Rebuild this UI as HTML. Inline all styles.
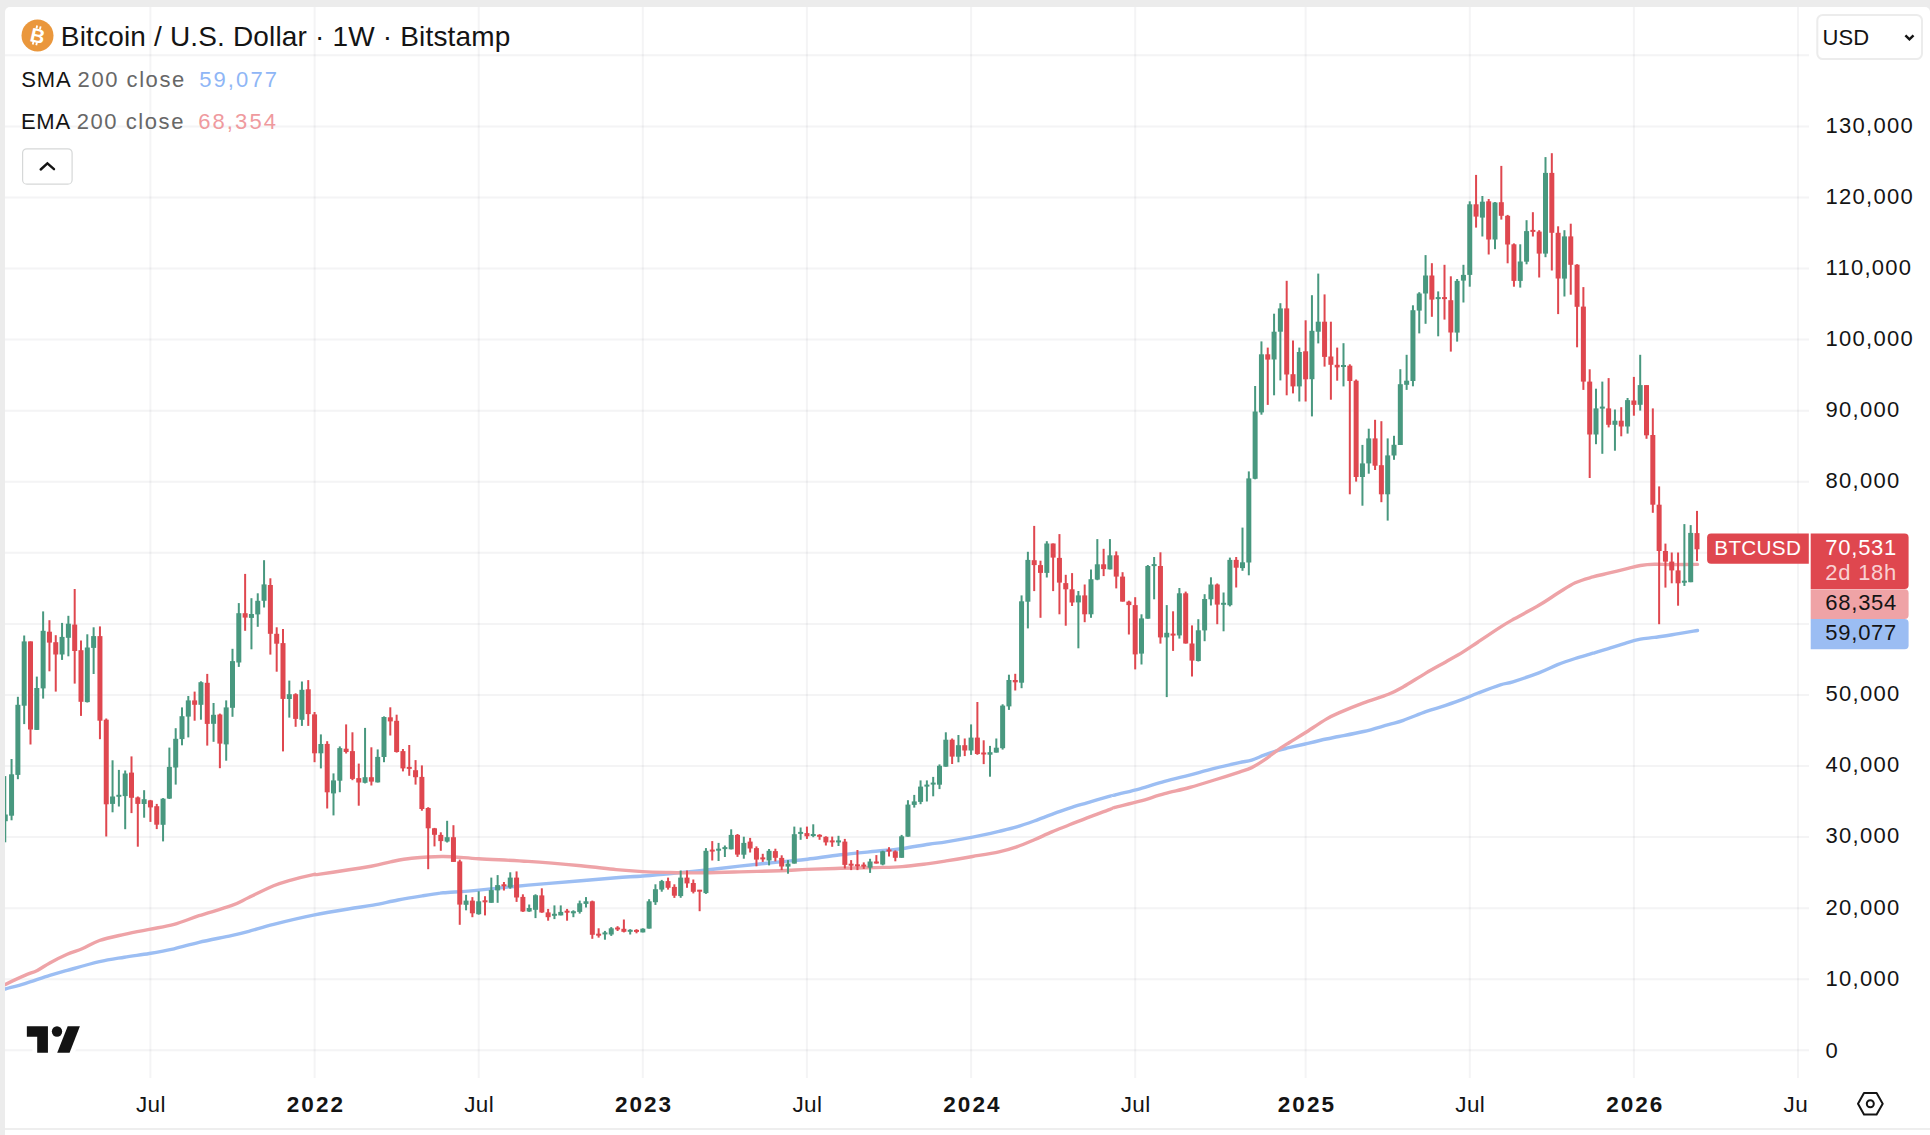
<!DOCTYPE html>
<html><head><meta charset="utf-8"><title>BTCUSD</title>
<style>
html,body{margin:0;padding:0;}
body{width:1930px;height:1135px;overflow:hidden;background:#ececec;font-family:"Liberation Sans",sans-serif;color:#141414;position:relative;}
#panel{position:absolute;left:5px;top:7px;width:1925px;height:1128px;background:#fff;border-radius:5px 5px 0 0;}
#botline{position:absolute;left:5px;top:1128px;width:1925px;height:2px;background:#eeeeee;}
svg{position:absolute;left:0;top:0;}
.pl{position:absolute;left:1825.6px;height:26px;line-height:26px;font-size:22px;letter-spacing:1.25px;color:#141414;white-space:nowrap;}
#taxis{position:absolute;left:5px;top:1080px;width:1804px;height:48px;overflow:hidden;}
.tl{position:absolute;top:12.1px;width:80px;text-align:center;font-size:22.5px;line-height:26px;letter-spacing:0.4px;text-indent:0.4px;color:#141414;white-space:nowrap;}
.tl.b{font-weight:bold;letter-spacing:2px;text-indent:2px;}
#title{position:absolute;left:60.8px;top:19.9px;font-size:28px;line-height:34px;white-space:nowrap;color:#141414;letter-spacing:0.17px;}
.lg{position:absolute;font-size:22px;line-height:26px;white-space:nowrap;letter-spacing:0.3px;}
.lg.g{color:#676767;}
.lbl{position:absolute;color:#fff;font-size:22px;line-height:26px;white-space:nowrap;letter-spacing:0.75px;}
</style></head><body>
<div id="panel"></div>
<div id="botline"></div>
<svg width="1930" height="1135" viewBox="0 0 1930 1135">
<defs><clipPath id="cp"><rect x="5" y="7" width="1804" height="1071"/></clipPath></defs>
<line x1="5" x2="1809" y1="1050.3" y2="1050.3" stroke="rgba(19,23,34,0.048)" stroke-width="2"/>
<line x1="5" x2="1809" y1="979.2" y2="979.2" stroke="rgba(19,23,34,0.048)" stroke-width="2"/>
<line x1="5" x2="1809" y1="908.2" y2="908.2" stroke="rgba(19,23,34,0.048)" stroke-width="2"/>
<line x1="5" x2="1809" y1="837.1" y2="837.1" stroke="rgba(19,23,34,0.048)" stroke-width="2"/>
<line x1="5" x2="1809" y1="766.0" y2="766.0" stroke="rgba(19,23,34,0.048)" stroke-width="2"/>
<line x1="5" x2="1809" y1="695.0" y2="695.0" stroke="rgba(19,23,34,0.048)" stroke-width="2"/>
<line x1="5" x2="1809" y1="623.9" y2="623.9" stroke="rgba(19,23,34,0.048)" stroke-width="2"/>
<line x1="5" x2="1809" y1="552.8" y2="552.8" stroke="rgba(19,23,34,0.048)" stroke-width="2"/>
<line x1="5" x2="1809" y1="481.7" y2="481.7" stroke="rgba(19,23,34,0.048)" stroke-width="2"/>
<line x1="5" x2="1809" y1="410.7" y2="410.7" stroke="rgba(19,23,34,0.048)" stroke-width="2"/>
<line x1="5" x2="1809" y1="339.6" y2="339.6" stroke="rgba(19,23,34,0.048)" stroke-width="2"/>
<line x1="5" x2="1809" y1="268.5" y2="268.5" stroke="rgba(19,23,34,0.048)" stroke-width="2"/>
<line x1="5" x2="1809" y1="197.5" y2="197.5" stroke="rgba(19,23,34,0.048)" stroke-width="2"/>
<line x1="5" x2="1809" y1="126.4" y2="126.4" stroke="rgba(19,23,34,0.048)" stroke-width="2"/>
<line x1="5" x2="1809" y1="55.3" y2="55.3" stroke="rgba(19,23,34,0.048)" stroke-width="2"/>
<line x1="150.4" x2="150.4" y1="7" y2="1078" stroke="rgba(19,23,34,0.048)" stroke-width="2"/>
<line x1="314.6" x2="314.6" y1="7" y2="1078" stroke="rgba(19,23,34,0.048)" stroke-width="2"/>
<line x1="478.7" x2="478.7" y1="7" y2="1078" stroke="rgba(19,23,34,0.048)" stroke-width="2"/>
<line x1="642.8" x2="642.8" y1="7" y2="1078" stroke="rgba(19,23,34,0.048)" stroke-width="2"/>
<line x1="806.9" x2="806.9" y1="7" y2="1078" stroke="rgba(19,23,34,0.048)" stroke-width="2"/>
<line x1="971.1" x2="971.1" y1="7" y2="1078" stroke="rgba(19,23,34,0.048)" stroke-width="2"/>
<line x1="1135.2" x2="1135.2" y1="7" y2="1078" stroke="rgba(19,23,34,0.048)" stroke-width="2"/>
<line x1="1305.6" x2="1305.6" y1="7" y2="1078" stroke="rgba(19,23,34,0.048)" stroke-width="2"/>
<line x1="1469.8" x2="1469.8" y1="7" y2="1078" stroke="rgba(19,23,34,0.048)" stroke-width="2"/>
<line x1="1633.9" x2="1633.9" y1="7" y2="1078" stroke="rgba(19,23,34,0.048)" stroke-width="2"/>
<line x1="1798.0" x2="1798.0" y1="7" y2="1078" stroke="rgba(19,23,34,0.048)" stroke-width="2"/>
<g clip-path="url(#cp)">
<path d="M5.0,989.1C8.3,988.1 17.4,985.9 24.9,983.6C32.3,981.3 42.7,977.6 49.8,975.4C56.8,973.2 58.9,972.7 67.2,970.4C75.5,968.1 90.0,963.9 99.5,961.7C109.0,959.5 116.1,958.6 124.4,957.2C132.7,955.8 141.0,954.9 149.3,953.5C157.5,952.1 165.8,950.6 174.1,948.8C182.4,946.9 189.5,944.5 199.0,942.3C208.5,940.1 223.1,937.4 231.3,935.6C239.6,933.7 241.7,933.2 248.8,931.3C255.8,929.5 262.9,927.1 273.6,924.4C284.4,921.7 301.0,917.7 313.4,915.2C325.9,912.6 338.3,910.6 348.3,909.0C358.2,907.3 364.8,906.7 373.1,905.2C381.4,903.7 389.7,901.6 398.0,900.0C406.3,898.4 415.9,896.9 422.9,895.8C429.9,894.6 435.9,893.6 440.0,893.1C444.1,892.5 441.3,893.0 447.8,892.5C454.2,892.0 465.4,891.3 478.8,890.1C492.1,888.8 511.1,886.7 528.1,885.1C545.1,883.6 566.3,882.0 580.9,880.7C595.6,879.5 605.9,878.5 616.2,877.7C626.5,876.9 633.8,876.7 642.6,876.0C651.4,875.3 658.8,874.7 669.0,873.7C679.3,872.7 692.5,871.4 704.3,870.2C716.0,868.9 726.9,867.5 739.5,866.1C752.1,864.7 768.7,863.0 780.0,861.9C791.3,860.7 797.3,860.4 807.4,859.2C817.4,858.0 829.1,856.1 840.5,854.8C851.9,853.5 865.4,852.3 875.7,851.3C886.0,850.2 893.3,849.8 902.1,848.6C910.9,847.4 921.2,845.3 928.6,844.2C935.9,843.1 938.8,843.1 946.2,841.9C953.5,840.7 963.8,838.9 972.6,837.2C981.4,835.4 991.7,833.0 999.0,831.3C1006.4,829.6 1010.8,828.7 1016.7,826.9C1022.5,825.2 1028.4,823.1 1034.3,821.0C1040.1,818.8 1046.0,816.4 1051.9,814.3C1057.8,812.1 1063.6,810.0 1069.5,808.1C1075.4,806.2 1080.4,804.8 1087.1,802.8C1093.9,800.8 1105.4,797.4 1110.0,796.1C1114.7,794.8 1109.9,796.2 1114.9,795.0C1119.8,793.7 1131.5,791.0 1139.8,788.8C1148.0,786.5 1156.3,783.6 1164.6,781.3C1172.9,779.0 1181.2,777.2 1189.5,775.1C1197.8,772.9 1206.1,770.4 1214.4,768.4C1222.7,766.3 1233.0,764.0 1239.3,762.6C1245.5,761.3 1247.5,761.4 1251.7,760.1C1255.8,758.9 1260.0,756.7 1264.1,755.2C1268.3,753.6 1272.4,752.2 1276.6,750.9C1280.7,749.7 1284.2,748.9 1289.0,747.7C1293.8,746.6 1299.0,745.4 1305.2,744.0C1311.4,742.5 1320.7,740.2 1326.3,739.0C1331.9,737.8 1332.5,737.8 1338.8,736.5C1345.0,735.3 1355.3,733.5 1363.6,731.5C1371.9,729.6 1381.9,726.4 1388.5,724.6C1395.1,722.7 1397.2,722.5 1403.4,720.3C1409.7,718.2 1418.8,714.1 1425.8,711.6C1432.9,709.2 1439.5,707.5 1445.7,705.4C1451.9,703.3 1457.7,701.3 1463.1,699.2C1468.5,697.1 1471.8,695.4 1478.1,693.0C1484.3,690.6 1494.6,686.6 1500.4,684.8C1506.3,682.9 1506.5,683.8 1512.9,681.8C1519.3,679.8 1531.4,675.6 1538.9,672.8C1546.3,669.9 1551.6,667.1 1557.6,664.7C1563.7,662.3 1569.4,660.4 1575.2,658.5C1581.1,656.6 1587.0,655.0 1592.9,653.2C1598.7,651.5 1604.6,649.8 1610.5,647.9C1616.3,646.1 1623.1,643.8 1628.1,642.3C1633.1,640.8 1636.0,640.0 1640.4,639.1C1644.8,638.3 1649.2,638.1 1654.5,637.4C1659.8,636.6 1665.0,635.9 1672.1,634.7C1679.3,633.6 1693.3,631.2 1697.5,630.5" fill="none" stroke="#9cbef3" stroke-width="3.4" stroke-linecap="round" stroke-linejoin="round"/>
<path d="M5.0,984.6C8.3,983.0 19.5,977.7 24.9,975.4C30.3,973.0 33.2,972.5 37.3,970.4C41.5,968.3 44.8,965.6 49.8,962.9C54.7,960.2 61.8,956.6 67.2,954.2C72.6,951.9 76.7,951.0 82.1,948.8C87.5,946.5 92.5,943.0 99.5,940.5C106.6,938.1 116.1,936.2 124.4,934.3C132.7,932.5 141.0,931.0 149.3,929.4C157.5,927.7 165.8,926.7 174.1,924.4C182.4,922.1 189.5,918.8 199.0,915.7C208.5,912.6 223.1,908.7 231.3,905.7C239.6,902.7 241.7,900.8 248.8,897.5C255.8,894.2 266.6,888.7 273.6,885.8C280.7,882.9 284.4,882.0 291.0,880.1C297.7,878.2 308.6,875.6 313.4,874.6C318.3,873.6 310.4,875.5 320.0,874.1C329.6,872.7 359.3,868.2 371.1,866.2C382.8,864.1 383.7,863.1 390.5,861.8C397.2,860.5 402.8,859.1 411.6,858.3C420.4,857.4 432.2,856.4 443.3,856.5C454.5,856.6 464.5,857.9 478.7,858.7C492.8,859.6 511.0,860.2 528.1,861.4C545.1,862.5 566.3,864.4 580.9,865.8C595.6,867.1 605.9,868.7 616.2,869.6C626.5,870.6 633.8,871.1 642.6,871.6C651.4,872.0 658.8,872.2 669.0,872.5C679.3,872.7 692.5,872.9 704.3,872.8C716.0,872.7 726.9,872.3 739.5,871.9C752.1,871.6 768.7,871.1 780.0,870.7C791.3,870.3 797.3,869.8 807.4,869.4C817.4,869.0 829.1,868.6 840.5,868.3C851.9,868.1 865.4,867.9 875.7,867.6C886.0,867.3 893.3,867.3 902.1,866.6C910.9,865.9 921.2,864.5 928.6,863.6C935.9,862.6 938.8,862.1 946.2,860.9C953.5,859.8 963.8,858.1 972.6,856.5C981.4,855.0 991.7,853.4 999.0,851.8C1006.4,850.2 1010.8,848.8 1016.7,846.8C1022.5,844.9 1028.4,842.3 1034.3,839.8C1040.1,837.3 1046.0,834.4 1051.9,831.9C1057.8,829.4 1063.6,827.2 1069.5,824.8C1075.4,822.5 1080.4,820.4 1087.1,817.8C1093.9,815.2 1105.4,811.1 1110.0,809.3C1114.7,807.6 1109.9,808.8 1114.9,807.4C1119.8,806.1 1131.5,803.5 1139.8,801.2C1148.0,798.9 1156.3,796.0 1164.6,793.7C1172.9,791.5 1181.2,789.8 1189.5,787.5C1197.8,785.2 1206.1,782.6 1214.4,780.0C1222.7,777.5 1233.0,774.2 1239.3,772.1C1245.5,770.0 1247.5,769.6 1251.7,767.6C1255.8,765.6 1260.0,762.9 1264.1,760.1C1268.3,757.4 1272.4,753.8 1276.6,750.9C1280.7,748.0 1284.2,745.8 1289.0,742.7C1293.8,739.7 1299.0,736.7 1305.2,732.8C1311.4,728.8 1320.7,722.4 1326.3,719.1C1331.9,715.8 1332.5,715.6 1338.8,712.9C1345.0,710.2 1355.3,706.0 1363.6,702.9C1371.9,699.8 1381.9,696.9 1388.5,694.2C1395.1,691.5 1397.2,690.3 1403.4,686.8C1409.7,683.2 1418.8,677.2 1425.8,673.1C1432.9,668.9 1439.5,665.4 1445.7,661.9C1451.9,658.4 1457.7,655.3 1463.1,651.9C1468.5,648.6 1471.8,646.1 1478.1,642.0C1484.3,637.8 1494.6,630.8 1500.4,627.1C1506.3,623.3 1506.5,623.2 1512.9,619.6C1519.3,616.0 1531.4,609.7 1538.9,605.3C1546.3,601.0 1551.6,597.1 1557.6,593.3C1563.7,589.6 1569.4,585.5 1575.2,582.8C1581.1,580.0 1587.0,578.6 1592.9,576.9C1598.7,575.3 1604.6,574.2 1610.5,572.7C1616.3,571.3 1623.1,569.5 1628.1,568.3C1633.1,567.1 1636.0,566.2 1640.4,565.5C1644.8,564.8 1649.2,564.4 1654.5,564.3C1659.8,564.1 1665.0,564.6 1672.1,564.6C1679.3,564.6 1693.3,564.5 1697.5,564.4" fill="none" stroke="#eea3a7" stroke-width="3.4" stroke-linecap="round" stroke-linejoin="round"/>
<rect x="4.25" y="776.1" width="2" height="66.2" fill="#48987f"/>
<rect x="10.56" y="759.0" width="2" height="61.3" fill="#48987f"/>
<rect x="16.88" y="696.8" width="2" height="82.4" fill="#48987f"/>
<rect x="23.19" y="635.5" width="2" height="88.6" fill="#48987f"/>
<rect x="29.50" y="641.4" width="2" height="103.1" fill="#df474f"/>
<rect x="35.81" y="676.6" width="2" height="53.4" fill="#48987f"/>
<rect x="42.13" y="611.4" width="2" height="87.2" fill="#48987f"/>
<rect x="48.44" y="620.2" width="2" height="51.1" fill="#df474f"/>
<rect x="54.75" y="635.2" width="2" height="56.4" fill="#df474f"/>
<rect x="61.06" y="622.9" width="2" height="37.0" fill="#48987f"/>
<rect x="67.38" y="615.8" width="2" height="40.5" fill="#48987f"/>
<rect x="73.69" y="589.0" width="2" height="94.6" fill="#df474f"/>
<rect x="80.00" y="640.5" width="2" height="75.4" fill="#df474f"/>
<rect x="86.31" y="634.3" width="2" height="68.2" fill="#48987f"/>
<rect x="92.63" y="627.3" width="2" height="46.7" fill="#48987f"/>
<rect x="98.94" y="626.4" width="2" height="112.8" fill="#df474f"/>
<rect x="105.25" y="718.5" width="2" height="118.0" fill="#df474f"/>
<rect x="111.56" y="760.3" width="2" height="52.0" fill="#48987f"/>
<rect x="117.88" y="769.9" width="2" height="36.6" fill="#48987f"/>
<rect x="124.19" y="770.5" width="2" height="58.7" fill="#48987f"/>
<rect x="130.50" y="756.4" width="2" height="56.7" fill="#df474f"/>
<rect x="136.81" y="796.5" width="2" height="50.2" fill="#df474f"/>
<rect x="143.13" y="790.2" width="2" height="27.5" fill="#48987f"/>
<rect x="149.44" y="799.9" width="2" height="22.0" fill="#df474f"/>
<rect x="155.75" y="803.9" width="2" height="25.2" fill="#df474f"/>
<rect x="162.06" y="798.1" width="2" height="43.3" fill="#48987f"/>
<rect x="168.38" y="747.6" width="2" height="51.4" fill="#48987f"/>
<rect x="174.69" y="728.2" width="2" height="56.4" fill="#48987f"/>
<rect x="181.00" y="707.4" width="2" height="37.9" fill="#48987f"/>
<rect x="187.31" y="696.0" width="2" height="41.4" fill="#48987f"/>
<rect x="193.63" y="691.6" width="2" height="29.1" fill="#df474f"/>
<rect x="199.94" y="681.3" width="2" height="38.4" fill="#48987f"/>
<rect x="206.25" y="673.9" width="2" height="71.7" fill="#df474f"/>
<rect x="212.56" y="703.0" width="2" height="38.8" fill="#48987f"/>
<rect x="218.88" y="713.6" width="2" height="54.6" fill="#df474f"/>
<rect x="225.19" y="700.4" width="2" height="60.3" fill="#48987f"/>
<rect x="231.50" y="648.8" width="2" height="68.0" fill="#48987f"/>
<rect x="237.81" y="603.1" width="2" height="63.8" fill="#48987f"/>
<rect x="244.13" y="573.9" width="2" height="56.9" fill="#df474f"/>
<rect x="250.44" y="598.2" width="2" height="51.1" fill="#48987f"/>
<rect x="256.75" y="593.3" width="2" height="33.5" fill="#48987f"/>
<rect x="263.06" y="560.2" width="2" height="47.3" fill="#48987f"/>
<rect x="269.38" y="578.3" width="2" height="76.3" fill="#df474f"/>
<rect x="275.69" y="627.3" width="2" height="44.4" fill="#df474f"/>
<rect x="282.00" y="629.0" width="2" height="122.4" fill="#df474f"/>
<rect x="288.31" y="680.6" width="2" height="37.0" fill="#48987f"/>
<rect x="294.63" y="693.3" width="2" height="33.5" fill="#df474f"/>
<rect x="300.94" y="681.5" width="2" height="44.4" fill="#48987f"/>
<rect x="307.25" y="680.1" width="2" height="45.8" fill="#df474f"/>
<rect x="313.56" y="712.0" width="2" height="50.2" fill="#df474f"/>
<rect x="319.88" y="734.4" width="2" height="34.0" fill="#48987f"/>
<rect x="326.19" y="741.2" width="2" height="67.3" fill="#df474f"/>
<rect x="332.50" y="773.4" width="2" height="42.0" fill="#48987f"/>
<rect x="338.81" y="746.4" width="2" height="45.8" fill="#48987f"/>
<rect x="345.13" y="724.4" width="2" height="29.1" fill="#df474f"/>
<rect x="351.44" y="732.3" width="2" height="47.9" fill="#df474f"/>
<rect x="357.75" y="763.6" width="2" height="42.1" fill="#df474f"/>
<rect x="364.06" y="727.9" width="2" height="55.5" fill="#48987f"/>
<rect x="370.38" y="747.3" width="2" height="38.2" fill="#df474f"/>
<rect x="376.69" y="749.4" width="2" height="33.1" fill="#48987f"/>
<rect x="383.00" y="716.4" width="2" height="45.8" fill="#48987f"/>
<rect x="389.31" y="707.3" width="2" height="28.2" fill="#df474f"/>
<rect x="395.63" y="714.7" width="2" height="37.9" fill="#df474f"/>
<rect x="401.94" y="749.0" width="2" height="22.4" fill="#df474f"/>
<rect x="408.25" y="745.0" width="2" height="30.8" fill="#df474f"/>
<rect x="414.56" y="760.1" width="2" height="24.5" fill="#df474f"/>
<rect x="420.88" y="765.4" width="2" height="45.3" fill="#df474f"/>
<rect x="427.19" y="807.2" width="2" height="62.0" fill="#df474f"/>
<rect x="433.50" y="827.9" width="2" height="18.5" fill="#df474f"/>
<rect x="439.81" y="832.3" width="2" height="18.5" fill="#df474f"/>
<rect x="446.13" y="820.8" width="2" height="21.7" fill="#48987f"/>
<rect x="452.44" y="825.2" width="2" height="36.6" fill="#df474f"/>
<rect x="458.75" y="859.6" width="2" height="65.2" fill="#df474f"/>
<rect x="465.06" y="894.8" width="2" height="15.5" fill="#48987f"/>
<rect x="471.38" y="897.1" width="2" height="20.1" fill="#df474f"/>
<rect x="477.69" y="891.3" width="2" height="23.4" fill="#48987f"/>
<rect x="484.00" y="896.2" width="2" height="19.2" fill="#df474f"/>
<rect x="490.31" y="877.6" width="2" height="25.2" fill="#48987f"/>
<rect x="496.63" y="875.1" width="2" height="27.7" fill="#48987f"/>
<rect x="502.94" y="882.0" width="2" height="8.5" fill="#df474f"/>
<rect x="509.25" y="872.3" width="2" height="16.4" fill="#48987f"/>
<rect x="515.57" y="871.4" width="2" height="30.5" fill="#df474f"/>
<rect x="521.88" y="894.3" width="2" height="17.6" fill="#df474f"/>
<rect x="528.19" y="904.5" width="2" height="7.4" fill="#48987f"/>
<rect x="534.50" y="894.3" width="2" height="23.8" fill="#48987f"/>
<rect x="540.82" y="888.3" width="2" height="24.5" fill="#df474f"/>
<rect x="547.13" y="908.9" width="2" height="11.8" fill="#df474f"/>
<rect x="553.44" y="905.4" width="2" height="13.7" fill="#48987f"/>
<rect x="559.75" y="905.4" width="2" height="10.0" fill="#48987f"/>
<rect x="566.07" y="908.9" width="2" height="11.8" fill="#df474f"/>
<rect x="572.38" y="910.3" width="2" height="6.9" fill="#48987f"/>
<rect x="578.69" y="900.6" width="2" height="13.0" fill="#48987f"/>
<rect x="585.00" y="897.1" width="2" height="10.4" fill="#48987f"/>
<rect x="591.32" y="900.6" width="2" height="38.2" fill="#df474f"/>
<rect x="597.63" y="928.3" width="2" height="9.3" fill="#df474f"/>
<rect x="603.94" y="930.9" width="2" height="8.8" fill="#48987f"/>
<rect x="610.25" y="927.1" width="2" height="8.8" fill="#48987f"/>
<rect x="616.57" y="926.2" width="2" height="4.8" fill="#df474f"/>
<rect x="622.88" y="919.5" width="2" height="12.9" fill="#df474f"/>
<rect x="629.19" y="929.2" width="2" height="5.3" fill="#48987f"/>
<rect x="635.50" y="929.2" width="2" height="4.1" fill="#df474f"/>
<rect x="641.82" y="928.3" width="2" height="4.1" fill="#48987f"/>
<rect x="648.13" y="899.2" width="2" height="29.4" fill="#48987f"/>
<rect x="654.44" y="884.3" width="2" height="20.6" fill="#48987f"/>
<rect x="660.75" y="879.9" width="2" height="11.8" fill="#48987f"/>
<rect x="667.07" y="877.6" width="2" height="12.0" fill="#df474f"/>
<rect x="673.38" y="884.3" width="2" height="13.6" fill="#df474f"/>
<rect x="679.69" y="870.5" width="2" height="27.3" fill="#48987f"/>
<rect x="686.00" y="870.5" width="2" height="17.3" fill="#df474f"/>
<rect x="692.32" y="879.5" width="2" height="13.9" fill="#df474f"/>
<rect x="698.63" y="889.9" width="2" height="21.3" fill="#df474f"/>
<rect x="704.94" y="848.1" width="2" height="45.8" fill="#48987f"/>
<rect x="711.25" y="841.1" width="2" height="19.4" fill="#df474f"/>
<rect x="717.57" y="842.9" width="2" height="18.1" fill="#48987f"/>
<rect x="723.88" y="845.5" width="2" height="11.5" fill="#48987f"/>
<rect x="730.19" y="829.3" width="2" height="20.1" fill="#48987f"/>
<rect x="736.50" y="834.0" width="2" height="22.9" fill="#df474f"/>
<rect x="742.82" y="836.7" width="2" height="22.0" fill="#48987f"/>
<rect x="749.13" y="837.9" width="2" height="14.6" fill="#df474f"/>
<rect x="755.44" y="846.4" width="2" height="19.9" fill="#df474f"/>
<rect x="761.75" y="853.8" width="2" height="8.1" fill="#df474f"/>
<rect x="768.07" y="849.0" width="2" height="16.4" fill="#48987f"/>
<rect x="774.38" y="848.7" width="2" height="12.7" fill="#df474f"/>
<rect x="780.69" y="855.3" width="2" height="14.8" fill="#df474f"/>
<rect x="787.00" y="860.1" width="2" height="13.6" fill="#48987f"/>
<rect x="793.32" y="826.6" width="2" height="37.0" fill="#48987f"/>
<rect x="799.63" y="827.5" width="2" height="12.3" fill="#48987f"/>
<rect x="805.94" y="826.6" width="2" height="12.3" fill="#df474f"/>
<rect x="812.25" y="824.3" width="2" height="12.9" fill="#48987f"/>
<rect x="818.57" y="834.2" width="2" height="5.6" fill="#df474f"/>
<rect x="824.88" y="836.3" width="2" height="9.2" fill="#df474f"/>
<rect x="831.19" y="836.6" width="2" height="10.2" fill="#df474f"/>
<rect x="837.50" y="835.8" width="2" height="10.2" fill="#48987f"/>
<rect x="843.82" y="838.9" width="2" height="29.6" fill="#df474f"/>
<rect x="850.13" y="860.1" width="2" height="10.0" fill="#df474f"/>
<rect x="856.44" y="850.0" width="2" height="20.1" fill="#df474f"/>
<rect x="862.75" y="862.4" width="2" height="6.5" fill="#df474f"/>
<rect x="869.07" y="858.8" width="2" height="14.1" fill="#48987f"/>
<rect x="875.38" y="855.1" width="2" height="8.5" fill="#df474f"/>
<rect x="881.69" y="850.7" width="2" height="14.6" fill="#48987f"/>
<rect x="888.00" y="847.2" width="2" height="9.3" fill="#df474f"/>
<rect x="894.32" y="850.4" width="2" height="10.9" fill="#df474f"/>
<rect x="900.63" y="834.9" width="2" height="22.9" fill="#48987f"/>
<rect x="906.94" y="800.2" width="2" height="36.5" fill="#48987f"/>
<rect x="913.25" y="794.9" width="2" height="12.7" fill="#48987f"/>
<rect x="919.57" y="780.4" width="2" height="23.8" fill="#48987f"/>
<rect x="925.88" y="780.4" width="2" height="21.1" fill="#48987f"/>
<rect x="932.19" y="776.9" width="2" height="19.4" fill="#48987f"/>
<rect x="938.50" y="764.4" width="2" height="24.7" fill="#48987f"/>
<rect x="944.82" y="732.3" width="2" height="34.4" fill="#48987f"/>
<rect x="951.13" y="738.5" width="2" height="25.5" fill="#df474f"/>
<rect x="957.44" y="735.0" width="2" height="27.3" fill="#48987f"/>
<rect x="963.75" y="738.5" width="2" height="17.6" fill="#df474f"/>
<rect x="970.07" y="724.4" width="2" height="30.5" fill="#48987f"/>
<rect x="976.38" y="702.0" width="2" height="52.8" fill="#df474f"/>
<rect x="982.69" y="740.3" width="2" height="23.8" fill="#df474f"/>
<rect x="989.00" y="745.9" width="2" height="30.8" fill="#48987f"/>
<rect x="995.32" y="738.5" width="2" height="14.1" fill="#48987f"/>
<rect x="1001.63" y="704.3" width="2" height="45.3" fill="#48987f"/>
<rect x="1007.94" y="674.7" width="2" height="35.2" fill="#48987f"/>
<rect x="1014.25" y="673.8" width="2" height="16.7" fill="#df474f"/>
<rect x="1020.57" y="595.4" width="2" height="92.8" fill="#48987f"/>
<rect x="1026.88" y="551.8" width="2" height="76.6" fill="#48987f"/>
<rect x="1033.19" y="525.9" width="2" height="65.2" fill="#df474f"/>
<rect x="1039.50" y="560.7" width="2" height="57.1" fill="#df474f"/>
<rect x="1045.82" y="541.2" width="2" height="36.3" fill="#48987f"/>
<rect x="1052.13" y="543.5" width="2" height="47.6" fill="#df474f"/>
<rect x="1058.44" y="534.1" width="2" height="80.2" fill="#df474f"/>
<rect x="1064.75" y="574.8" width="2" height="50.9" fill="#df474f"/>
<rect x="1071.07" y="573.1" width="2" height="32.9" fill="#df474f"/>
<rect x="1077.38" y="591.0" width="2" height="57.3" fill="#48987f"/>
<rect x="1083.69" y="584.5" width="2" height="37.7" fill="#df474f"/>
<rect x="1090.00" y="569.5" width="2" height="48.3" fill="#48987f"/>
<rect x="1096.32" y="539.1" width="2" height="41.1" fill="#48987f"/>
<rect x="1102.63" y="548.8" width="2" height="27.3" fill="#df474f"/>
<rect x="1108.94" y="539.1" width="2" height="30.3" fill="#48987f"/>
<rect x="1115.25" y="551.4" width="2" height="37.0" fill="#df474f"/>
<rect x="1121.57" y="572.2" width="2" height="29.4" fill="#df474f"/>
<rect x="1127.88" y="600.7" width="2" height="33.8" fill="#df474f"/>
<rect x="1134.19" y="597.2" width="2" height="72.2" fill="#df474f"/>
<rect x="1140.50" y="614.3" width="2" height="50.2" fill="#48987f"/>
<rect x="1146.82" y="565.0" width="2" height="53.7" fill="#48987f"/>
<rect x="1153.13" y="557.0" width="2" height="42.3" fill="#48987f"/>
<rect x="1159.44" y="552.3" width="2" height="91.3" fill="#df474f"/>
<rect x="1165.75" y="605.1" width="2" height="92.0" fill="#48987f"/>
<rect x="1172.07" y="611.3" width="2" height="39.6" fill="#df474f"/>
<rect x="1178.38" y="588.0" width="2" height="50.6" fill="#48987f"/>
<rect x="1184.69" y="591.6" width="2" height="52.0" fill="#df474f"/>
<rect x="1191.00" y="625.4" width="2" height="51.1" fill="#df474f"/>
<rect x="1197.32" y="619.2" width="2" height="42.3" fill="#48987f"/>
<rect x="1203.63" y="594.2" width="2" height="47.0" fill="#48987f"/>
<rect x="1209.94" y="577.3" width="2" height="28.2" fill="#48987f"/>
<rect x="1216.25" y="583.5" width="2" height="40.7" fill="#df474f"/>
<rect x="1222.57" y="592.5" width="2" height="38.8" fill="#48987f"/>
<rect x="1228.88" y="557.6" width="2" height="48.8" fill="#48987f"/>
<rect x="1235.19" y="557.0" width="2" height="30.5" fill="#df474f"/>
<rect x="1241.50" y="527.6" width="2" height="43.2" fill="#48987f"/>
<rect x="1247.82" y="471.4" width="2" height="103.9" fill="#48987f"/>
<rect x="1254.13" y="386.0" width="2" height="93.3" fill="#48987f"/>
<rect x="1260.44" y="341.4" width="2" height="73.3" fill="#48987f"/>
<rect x="1266.75" y="347.6" width="2" height="57.3" fill="#df474f"/>
<rect x="1273.07" y="313.7" width="2" height="81.6" fill="#48987f"/>
<rect x="1279.38" y="303.2" width="2" height="77.2" fill="#48987f"/>
<rect x="1285.69" y="280.8" width="2" height="114.5" fill="#df474f"/>
<rect x="1292.00" y="340.5" width="2" height="52.9" fill="#df474f"/>
<rect x="1298.32" y="347.6" width="2" height="53.9" fill="#48987f"/>
<rect x="1304.63" y="320.3" width="2" height="81.2" fill="#df474f"/>
<rect x="1310.94" y="295.2" width="2" height="121.2" fill="#48987f"/>
<rect x="1317.25" y="273.6" width="2" height="69.8" fill="#48987f"/>
<rect x="1323.57" y="294.4" width="2" height="72.2" fill="#df474f"/>
<rect x="1329.88" y="321.7" width="2" height="78.0" fill="#df474f"/>
<rect x="1336.19" y="347.6" width="2" height="33.1" fill="#df474f"/>
<rect x="1342.50" y="343.2" width="2" height="43.2" fill="#48987f"/>
<rect x="1348.82" y="364.3" width="2" height="130.0" fill="#df474f"/>
<rect x="1355.13" y="379.5" width="2" height="102.1" fill="#df474f"/>
<rect x="1361.44" y="444.9" width="2" height="60.8" fill="#48987f"/>
<rect x="1367.75" y="428.7" width="2" height="45.0" fill="#48987f"/>
<rect x="1374.07" y="419.8" width="2" height="50.2" fill="#df474f"/>
<rect x="1380.38" y="421.2" width="2" height="81.0" fill="#df474f"/>
<rect x="1386.69" y="438.4" width="2" height="82.2" fill="#48987f"/>
<rect x="1393.00" y="435.8" width="2" height="24.0" fill="#48987f"/>
<rect x="1399.32" y="369.2" width="2" height="75.8" fill="#48987f"/>
<rect x="1405.63" y="354.8" width="2" height="35.1" fill="#48987f"/>
<rect x="1411.94" y="305.3" width="2" height="81.0" fill="#48987f"/>
<rect x="1418.25" y="292.2" width="2" height="41.2" fill="#48987f"/>
<rect x="1424.57" y="255.1" width="2" height="68.7" fill="#48987f"/>
<rect x="1430.88" y="263.2" width="2" height="53.6" fill="#df474f"/>
<rect x="1437.19" y="291.4" width="2" height="44.9" fill="#48987f"/>
<rect x="1443.50" y="264.8" width="2" height="54.8" fill="#df474f"/>
<rect x="1449.82" y="276.3" width="2" height="75.3" fill="#df474f"/>
<rect x="1456.13" y="279.0" width="2" height="62.6" fill="#48987f"/>
<rect x="1462.44" y="264.8" width="2" height="37.7" fill="#48987f"/>
<rect x="1468.75" y="201.3" width="2" height="85.4" fill="#48987f"/>
<rect x="1475.07" y="174.9" width="2" height="52.7" fill="#df474f"/>
<rect x="1481.38" y="196.0" width="2" height="40.5" fill="#48987f"/>
<rect x="1487.69" y="199.0" width="2" height="55.5" fill="#df474f"/>
<rect x="1494.00" y="202.0" width="2" height="47.2" fill="#48987f"/>
<rect x="1500.32" y="165.9" width="2" height="53.7" fill="#df474f"/>
<rect x="1506.63" y="214.9" width="2" height="48.4" fill="#df474f"/>
<rect x="1512.94" y="243.4" width="2" height="43.3" fill="#df474f"/>
<rect x="1519.25" y="244.3" width="2" height="43.3" fill="#48987f"/>
<rect x="1525.57" y="220.2" width="2" height="44.1" fill="#48987f"/>
<rect x="1531.88" y="212.2" width="2" height="24.3" fill="#df474f"/>
<rect x="1538.19" y="230.2" width="2" height="47.3" fill="#df474f"/>
<rect x="1544.50" y="157.1" width="2" height="100.1" fill="#48987f"/>
<rect x="1550.82" y="153.2" width="2" height="117.3" fill="#df474f"/>
<rect x="1557.13" y="226.3" width="2" height="87.8" fill="#df474f"/>
<rect x="1563.44" y="230.2" width="2" height="66.3" fill="#48987f"/>
<rect x="1569.75" y="223.7" width="2" height="71.0" fill="#df474f"/>
<rect x="1576.07" y="264.2" width="2" height="83.1" fill="#df474f"/>
<rect x="1582.38" y="287.1" width="2" height="102.8" fill="#df474f"/>
<rect x="1588.69" y="369.3" width="2" height="108.7" fill="#df474f"/>
<rect x="1595.00" y="388.7" width="2" height="55.5" fill="#48987f"/>
<rect x="1601.32" y="381.6" width="2" height="72.2" fill="#48987f"/>
<rect x="1607.63" y="378.1" width="2" height="49.3" fill="#df474f"/>
<rect x="1613.94" y="409.5" width="2" height="41.2" fill="#48987f"/>
<rect x="1620.25" y="407.2" width="2" height="29.1" fill="#df474f"/>
<rect x="1626.57" y="398.0" width="2" height="35.6" fill="#48987f"/>
<rect x="1632.88" y="376.9" width="2" height="38.8" fill="#df474f"/>
<rect x="1639.19" y="354.8" width="2" height="55.8" fill="#48987f"/>
<rect x="1645.50" y="385.1" width="2" height="53.7" fill="#df474f"/>
<rect x="1651.82" y="408.4" width="2" height="104.4" fill="#df474f"/>
<rect x="1658.13" y="486.4" width="2" height="137.8" fill="#df474f"/>
<rect x="1664.44" y="543.6" width="2" height="44.0" fill="#df474f"/>
<rect x="1670.75" y="552.5" width="2" height="30.8" fill="#df474f"/>
<rect x="1677.07" y="552.5" width="2" height="53.2" fill="#df474f"/>
<rect x="1683.38" y="524.1" width="2" height="61.8" fill="#48987f"/>
<rect x="1689.69" y="525.1" width="2" height="57.1" fill="#48987f"/>
<rect x="1696.00" y="510.9" width="2" height="50.2" fill="#df474f"/>
<rect x="2.75" y="814.5" width="5" height="6.7" fill="#48987f"/>
<rect x="9.06" y="774.3" width="5" height="41.4" fill="#48987f"/>
<rect x="15.38" y="704.8" width="5" height="70.1" fill="#48987f"/>
<rect x="21.69" y="641.4" width="5" height="64.3" fill="#48987f"/>
<rect x="28.00" y="641.4" width="5" height="88.1" fill="#df474f"/>
<rect x="34.31" y="688.0" width="5" height="41.9" fill="#48987f"/>
<rect x="40.63" y="630.8" width="5" height="57.6" fill="#48987f"/>
<rect x="46.94" y="631.7" width="5" height="10.9" fill="#df474f"/>
<rect x="53.25" y="642.2" width="5" height="12.3" fill="#df474f"/>
<rect x="59.56" y="636.9" width="5" height="17.6" fill="#48987f"/>
<rect x="65.88" y="623.7" width="5" height="14.1" fill="#48987f"/>
<rect x="72.19" y="624.6" width="5" height="26.4" fill="#df474f"/>
<rect x="78.50" y="650.2" width="5" height="51.6" fill="#df474f"/>
<rect x="84.81" y="647.5" width="5" height="54.6" fill="#48987f"/>
<rect x="91.13" y="636.1" width="5" height="11.8" fill="#48987f"/>
<rect x="97.44" y="636.1" width="5" height="84.6" fill="#df474f"/>
<rect x="103.75" y="719.7" width="5" height="84.6" fill="#df474f"/>
<rect x="110.06" y="796.5" width="5" height="7.4" fill="#48987f"/>
<rect x="116.38" y="794.8" width="5" height="2.0" fill="#48987f"/>
<rect x="122.69" y="773.5" width="5" height="22.6" fill="#48987f"/>
<rect x="129.00" y="772.6" width="5" height="25.2" fill="#df474f"/>
<rect x="135.31" y="797.4" width="5" height="6.5" fill="#df474f"/>
<rect x="141.63" y="799.2" width="5" height="4.8" fill="#48987f"/>
<rect x="147.94" y="800.4" width="5" height="7.0" fill="#df474f"/>
<rect x="154.25" y="806.2" width="5" height="18.5" fill="#df474f"/>
<rect x="160.56" y="798.7" width="5" height="26.1" fill="#48987f"/>
<rect x="166.88" y="766.9" width="5" height="31.7" fill="#48987f"/>
<rect x="173.19" y="738.8" width="5" height="28.7" fill="#48987f"/>
<rect x="179.50" y="716.2" width="5" height="22.9" fill="#48987f"/>
<rect x="185.81" y="700.4" width="5" height="16.2" fill="#48987f"/>
<rect x="192.13" y="700.4" width="5" height="4.4" fill="#df474f"/>
<rect x="198.44" y="682.2" width="5" height="22.6" fill="#48987f"/>
<rect x="204.75" y="682.8" width="5" height="41.1" fill="#df474f"/>
<rect x="211.06" y="714.8" width="5" height="9.0" fill="#48987f"/>
<rect x="217.38" y="714.5" width="5" height="29.1" fill="#df474f"/>
<rect x="223.69" y="707.4" width="5" height="37.0" fill="#48987f"/>
<rect x="230.00" y="661.1" width="5" height="46.7" fill="#48987f"/>
<rect x="236.31" y="613.2" width="5" height="49.3" fill="#48987f"/>
<rect x="242.63" y="613.2" width="5" height="4.4" fill="#df474f"/>
<rect x="248.94" y="614.0" width="5" height="3.9" fill="#48987f"/>
<rect x="255.25" y="600.8" width="5" height="13.6" fill="#48987f"/>
<rect x="261.56" y="584.4" width="5" height="16.4" fill="#48987f"/>
<rect x="267.88" y="585.0" width="5" height="48.8" fill="#df474f"/>
<rect x="274.19" y="633.8" width="5" height="9.9" fill="#df474f"/>
<rect x="280.50" y="643.1" width="5" height="55.8" fill="#df474f"/>
<rect x="286.81" y="694.2" width="5" height="4.8" fill="#48987f"/>
<rect x="293.13" y="694.2" width="5" height="24.7" fill="#df474f"/>
<rect x="299.44" y="689.8" width="5" height="30.0" fill="#48987f"/>
<rect x="305.75" y="689.3" width="5" height="24.8" fill="#df474f"/>
<rect x="312.06" y="714.4" width="5" height="38.9" fill="#df474f"/>
<rect x="318.38" y="744.0" width="5" height="9.3" fill="#48987f"/>
<rect x="324.69" y="743.9" width="5" height="48.4" fill="#df474f"/>
<rect x="331.00" y="780.4" width="5" height="13.0" fill="#48987f"/>
<rect x="337.31" y="748.1" width="5" height="32.6" fill="#48987f"/>
<rect x="343.63" y="748.7" width="5" height="3.3" fill="#df474f"/>
<rect x="349.94" y="751.1" width="5" height="27.8" fill="#df474f"/>
<rect x="356.25" y="778.1" width="5" height="4.4" fill="#df474f"/>
<rect x="362.56" y="777.2" width="5" height="5.6" fill="#48987f"/>
<rect x="368.88" y="777.2" width="5" height="4.4" fill="#df474f"/>
<rect x="375.19" y="756.9" width="5" height="25.5" fill="#48987f"/>
<rect x="381.50" y="717.0" width="5" height="40.0" fill="#48987f"/>
<rect x="387.81" y="717.3" width="5" height="4.1" fill="#df474f"/>
<rect x="394.13" y="720.8" width="5" height="31.2" fill="#df474f"/>
<rect x="400.44" y="751.1" width="5" height="17.3" fill="#df474f"/>
<rect x="406.75" y="766.9" width="5" height="2.0" fill="#df474f"/>
<rect x="413.06" y="770.2" width="5" height="7.0" fill="#df474f"/>
<rect x="419.38" y="776.9" width="5" height="32.1" fill="#df474f"/>
<rect x="425.69" y="808.0" width="5" height="20.3" fill="#df474f"/>
<rect x="432.00" y="828.3" width="5" height="6.5" fill="#df474f"/>
<rect x="438.31" y="834.9" width="5" height="6.2" fill="#df474f"/>
<rect x="444.63" y="837.2" width="5" height="4.4" fill="#48987f"/>
<rect x="450.94" y="837.2" width="5" height="24.7" fill="#df474f"/>
<rect x="457.25" y="861.4" width="5" height="43.2" fill="#df474f"/>
<rect x="463.56" y="900.6" width="5" height="4.2" fill="#48987f"/>
<rect x="469.88" y="900.6" width="5" height="12.7" fill="#df474f"/>
<rect x="476.19" y="901.3" width="5" height="12.9" fill="#48987f"/>
<rect x="482.50" y="900.3" width="5" height="2.0" fill="#df474f"/>
<rect x="488.81" y="890.1" width="5" height="12.7" fill="#48987f"/>
<rect x="495.13" y="885.1" width="5" height="5.3" fill="#48987f"/>
<rect x="501.44" y="884.3" width="5" height="2.0" fill="#df474f"/>
<rect x="507.75" y="877.6" width="5" height="9.9" fill="#48987f"/>
<rect x="514.07" y="877.6" width="5" height="19.9" fill="#df474f"/>
<rect x="520.38" y="896.9" width="5" height="14.6" fill="#df474f"/>
<rect x="526.69" y="908.0" width="5" height="3.5" fill="#48987f"/>
<rect x="533.00" y="895.2" width="5" height="14.6" fill="#48987f"/>
<rect x="539.32" y="895.4" width="5" height="17.1" fill="#df474f"/>
<rect x="545.63" y="912.4" width="5" height="4.8" fill="#df474f"/>
<rect x="551.94" y="913.8" width="5" height="2.0" fill="#48987f"/>
<rect x="558.25" y="911.9" width="5" height="3.5" fill="#48987f"/>
<rect x="564.57" y="910.7" width="5" height="2.0" fill="#df474f"/>
<rect x="570.88" y="911.2" width="5" height="2.1" fill="#48987f"/>
<rect x="577.19" y="903.3" width="5" height="8.6" fill="#48987f"/>
<rect x="583.50" y="901.3" width="5" height="2.6" fill="#48987f"/>
<rect x="589.82" y="901.3" width="5" height="33.5" fill="#df474f"/>
<rect x="596.13" y="933.7" width="5" height="2.0" fill="#df474f"/>
<rect x="602.44" y="932.4" width="5" height="2.0" fill="#48987f"/>
<rect x="608.75" y="928.3" width="5" height="6.2" fill="#48987f"/>
<rect x="615.07" y="927.5" width="5" height="2.0" fill="#df474f"/>
<rect x="621.38" y="928.8" width="5" height="3.0" fill="#df474f"/>
<rect x="627.69" y="929.8" width="5" height="2.0" fill="#48987f"/>
<rect x="634.00" y="929.9" width="5" height="2.0" fill="#df474f"/>
<rect x="640.32" y="928.7" width="5" height="3.7" fill="#48987f"/>
<rect x="646.63" y="901.3" width="5" height="27.3" fill="#48987f"/>
<rect x="652.94" y="889.2" width="5" height="13.0" fill="#48987f"/>
<rect x="659.25" y="881.1" width="5" height="8.5" fill="#48987f"/>
<rect x="665.57" y="881.1" width="5" height="6.7" fill="#df474f"/>
<rect x="671.88" y="886.9" width="5" height="8.8" fill="#df474f"/>
<rect x="678.19" y="877.6" width="5" height="18.5" fill="#48987f"/>
<rect x="684.50" y="877.6" width="5" height="5.8" fill="#df474f"/>
<rect x="690.82" y="883.0" width="5" height="8.8" fill="#df474f"/>
<rect x="697.13" y="889.7" width="5" height="2.0" fill="#df474f"/>
<rect x="703.44" y="850.8" width="5" height="42.3" fill="#48987f"/>
<rect x="709.75" y="849.6" width="5" height="2.0" fill="#df474f"/>
<rect x="716.07" y="848.7" width="5" height="2.0" fill="#48987f"/>
<rect x="722.38" y="847.1" width="5" height="2.0" fill="#48987f"/>
<rect x="728.69" y="834.9" width="5" height="14.4" fill="#48987f"/>
<rect x="735.00" y="834.9" width="5" height="19.7" fill="#df474f"/>
<rect x="741.32" y="842.9" width="5" height="11.8" fill="#48987f"/>
<rect x="747.63" y="841.6" width="5" height="6.9" fill="#df474f"/>
<rect x="753.94" y="848.1" width="5" height="11.5" fill="#df474f"/>
<rect x="760.25" y="857.4" width="5" height="2.0" fill="#df474f"/>
<rect x="766.57" y="850.8" width="5" height="9.7" fill="#48987f"/>
<rect x="772.88" y="851.1" width="5" height="6.7" fill="#df474f"/>
<rect x="779.19" y="857.9" width="5" height="8.6" fill="#df474f"/>
<rect x="785.50" y="863.6" width="5" height="3.0" fill="#48987f"/>
<rect x="791.82" y="834.2" width="5" height="29.4" fill="#48987f"/>
<rect x="798.13" y="831.9" width="5" height="2.0" fill="#48987f"/>
<rect x="804.44" y="833.1" width="5" height="3.2" fill="#df474f"/>
<rect x="810.75" y="834.0" width="5" height="2.0" fill="#48987f"/>
<rect x="817.07" y="834.8" width="5" height="2.0" fill="#df474f"/>
<rect x="823.38" y="836.8" width="5" height="5.6" fill="#df474f"/>
<rect x="829.69" y="840.4" width="5" height="2.0" fill="#df474f"/>
<rect x="836.00" y="840.4" width="5" height="2.0" fill="#48987f"/>
<rect x="842.32" y="841.6" width="5" height="23.3" fill="#df474f"/>
<rect x="848.63" y="863.7" width="5" height="2.0" fill="#df474f"/>
<rect x="854.94" y="864.3" width="5" height="2.0" fill="#df474f"/>
<rect x="861.25" y="864.6" width="5" height="2.0" fill="#df474f"/>
<rect x="867.57" y="861.5" width="5" height="6.2" fill="#48987f"/>
<rect x="873.88" y="861.5" width="5" height="2.0" fill="#df474f"/>
<rect x="880.19" y="851.3" width="5" height="13.2" fill="#48987f"/>
<rect x="886.50" y="849.5" width="5" height="2.0" fill="#df474f"/>
<rect x="892.82" y="851.3" width="5" height="6.5" fill="#df474f"/>
<rect x="899.13" y="836.3" width="5" height="21.5" fill="#48987f"/>
<rect x="905.44" y="804.6" width="5" height="32.1" fill="#48987f"/>
<rect x="911.75" y="801.4" width="5" height="3.5" fill="#48987f"/>
<rect x="918.07" y="786.6" width="5" height="15.3" fill="#48987f"/>
<rect x="924.38" y="784.6" width="5" height="2.0" fill="#48987f"/>
<rect x="930.69" y="782.6" width="5" height="2.0" fill="#48987f"/>
<rect x="937.00" y="765.8" width="5" height="18.9" fill="#48987f"/>
<rect x="943.32" y="739.7" width="5" height="27.0" fill="#48987f"/>
<rect x="949.63" y="739.7" width="5" height="16.9" fill="#df474f"/>
<rect x="955.94" y="745.2" width="5" height="11.5" fill="#48987f"/>
<rect x="962.25" y="745.2" width="5" height="5.3" fill="#df474f"/>
<rect x="968.57" y="737.6" width="5" height="12.9" fill="#48987f"/>
<rect x="974.88" y="737.6" width="5" height="16.4" fill="#df474f"/>
<rect x="981.19" y="752.5" width="5" height="2.0" fill="#df474f"/>
<rect x="987.50" y="752.2" width="5" height="2.5" fill="#48987f"/>
<rect x="993.82" y="747.7" width="5" height="4.9" fill="#48987f"/>
<rect x="1000.13" y="705.6" width="5" height="42.6" fill="#48987f"/>
<rect x="1006.44" y="680.0" width="5" height="26.4" fill="#48987f"/>
<rect x="1012.75" y="680.0" width="5" height="2.3" fill="#df474f"/>
<rect x="1019.07" y="601.3" width="5" height="81.4" fill="#48987f"/>
<rect x="1025.38" y="559.9" width="5" height="41.8" fill="#48987f"/>
<rect x="1031.69" y="560.2" width="5" height="4.9" fill="#df474f"/>
<rect x="1038.00" y="565.1" width="5" height="7.8" fill="#df474f"/>
<rect x="1044.32" y="543.5" width="5" height="29.4" fill="#48987f"/>
<rect x="1050.63" y="543.5" width="5" height="14.1" fill="#df474f"/>
<rect x="1056.94" y="557.9" width="5" height="24.7" fill="#df474f"/>
<rect x="1063.25" y="583.1" width="5" height="6.2" fill="#df474f"/>
<rect x="1069.57" y="589.3" width="5" height="13.2" fill="#df474f"/>
<rect x="1075.88" y="595.4" width="5" height="7.0" fill="#48987f"/>
<rect x="1082.19" y="595.4" width="5" height="18.9" fill="#df474f"/>
<rect x="1088.50" y="579.2" width="5" height="35.1" fill="#48987f"/>
<rect x="1094.82" y="564.3" width="5" height="15.3" fill="#48987f"/>
<rect x="1101.13" y="564.3" width="5" height="4.8" fill="#df474f"/>
<rect x="1107.44" y="555.3" width="5" height="14.1" fill="#48987f"/>
<rect x="1113.75" y="555.3" width="5" height="21.3" fill="#df474f"/>
<rect x="1120.07" y="576.6" width="5" height="25.0" fill="#df474f"/>
<rect x="1126.38" y="601.6" width="5" height="3.5" fill="#df474f"/>
<rect x="1132.69" y="605.1" width="5" height="49.3" fill="#df474f"/>
<rect x="1139.00" y="618.4" width="5" height="35.2" fill="#48987f"/>
<rect x="1145.32" y="566.0" width="5" height="52.7" fill="#48987f"/>
<rect x="1151.63" y="564.1" width="5" height="2.0" fill="#48987f"/>
<rect x="1157.94" y="566.0" width="5" height="71.4" fill="#df474f"/>
<rect x="1164.25" y="632.8" width="5" height="4.6" fill="#48987f"/>
<rect x="1170.57" y="633.6" width="5" height="2.0" fill="#df474f"/>
<rect x="1176.88" y="593.3" width="5" height="42.1" fill="#48987f"/>
<rect x="1183.19" y="593.3" width="5" height="50.2" fill="#df474f"/>
<rect x="1189.50" y="643.5" width="5" height="17.1" fill="#df474f"/>
<rect x="1195.82" y="630.3" width="5" height="30.7" fill="#48987f"/>
<rect x="1202.13" y="599.0" width="5" height="31.4" fill="#48987f"/>
<rect x="1208.44" y="584.5" width="5" height="14.8" fill="#48987f"/>
<rect x="1214.75" y="584.5" width="5" height="20.1" fill="#df474f"/>
<rect x="1221.07" y="602.8" width="5" height="2.0" fill="#48987f"/>
<rect x="1227.38" y="559.9" width="5" height="45.3" fill="#48987f"/>
<rect x="1233.69" y="559.9" width="5" height="7.8" fill="#df474f"/>
<rect x="1240.00" y="562.3" width="5" height="5.8" fill="#48987f"/>
<rect x="1246.32" y="478.4" width="5" height="84.1" fill="#48987f"/>
<rect x="1252.63" y="411.5" width="5" height="67.3" fill="#48987f"/>
<rect x="1258.94" y="354.3" width="5" height="58.1" fill="#48987f"/>
<rect x="1265.25" y="354.3" width="5" height="5.3" fill="#df474f"/>
<rect x="1271.57" y="331.7" width="5" height="27.8" fill="#48987f"/>
<rect x="1277.88" y="308.4" width="5" height="23.3" fill="#48987f"/>
<rect x="1284.19" y="308.4" width="5" height="66.1" fill="#df474f"/>
<rect x="1290.50" y="374.2" width="5" height="12.2" fill="#df474f"/>
<rect x="1296.82" y="352.0" width="5" height="34.4" fill="#48987f"/>
<rect x="1303.13" y="351.3" width="5" height="28.0" fill="#df474f"/>
<rect x="1309.44" y="330.8" width="5" height="48.4" fill="#48987f"/>
<rect x="1315.75" y="321.7" width="5" height="10.0" fill="#48987f"/>
<rect x="1322.07" y="321.7" width="5" height="35.2" fill="#df474f"/>
<rect x="1328.38" y="356.5" width="5" height="8.3" fill="#df474f"/>
<rect x="1334.69" y="364.8" width="5" height="2.6" fill="#df474f"/>
<rect x="1341.00" y="365.0" width="5" height="2.0" fill="#48987f"/>
<rect x="1347.32" y="365.7" width="5" height="15.3" fill="#df474f"/>
<rect x="1353.63" y="380.7" width="5" height="96.3" fill="#df474f"/>
<rect x="1359.94" y="463.4" width="5" height="13.6" fill="#48987f"/>
<rect x="1366.25" y="438.4" width="5" height="25.0" fill="#48987f"/>
<rect x="1372.57" y="438.4" width="5" height="27.3" fill="#df474f"/>
<rect x="1378.88" y="465.2" width="5" height="29.1" fill="#df474f"/>
<rect x="1385.19" y="455.4" width="5" height="38.9" fill="#48987f"/>
<rect x="1391.50" y="444.8" width="5" height="10.7" fill="#48987f"/>
<rect x="1397.82" y="384.2" width="5" height="60.8" fill="#48987f"/>
<rect x="1404.13" y="380.7" width="5" height="4.1" fill="#48987f"/>
<rect x="1410.44" y="310.2" width="5" height="70.8" fill="#48987f"/>
<rect x="1416.75" y="293.5" width="5" height="17.1" fill="#48987f"/>
<rect x="1423.07" y="275.5" width="5" height="18.0" fill="#48987f"/>
<rect x="1429.38" y="275.5" width="5" height="24.1" fill="#df474f"/>
<rect x="1435.69" y="297.1" width="5" height="2.0" fill="#48987f"/>
<rect x="1442.00" y="297.1" width="5" height="2.0" fill="#df474f"/>
<rect x="1448.32" y="300.2" width="5" height="32.3" fill="#df474f"/>
<rect x="1454.63" y="280.9" width="5" height="51.7" fill="#48987f"/>
<rect x="1460.94" y="274.9" width="5" height="5.7" fill="#48987f"/>
<rect x="1467.25" y="204.3" width="5" height="70.6" fill="#48987f"/>
<rect x="1473.57" y="204.3" width="5" height="12.3" fill="#df474f"/>
<rect x="1479.88" y="201.7" width="5" height="15.9" fill="#48987f"/>
<rect x="1486.19" y="201.3" width="5" height="38.2" fill="#df474f"/>
<rect x="1492.50" y="202.5" width="5" height="37.0" fill="#48987f"/>
<rect x="1498.82" y="202.2" width="5" height="13.6" fill="#df474f"/>
<rect x="1505.13" y="215.8" width="5" height="28.7" fill="#df474f"/>
<rect x="1511.44" y="244.3" width="5" height="36.6" fill="#df474f"/>
<rect x="1517.75" y="261.5" width="5" height="19.4" fill="#48987f"/>
<rect x="1524.07" y="231.1" width="5" height="30.6" fill="#48987f"/>
<rect x="1530.38" y="229.9" width="5" height="2.0" fill="#df474f"/>
<rect x="1536.69" y="231.6" width="5" height="22.0" fill="#df474f"/>
<rect x="1543.00" y="172.9" width="5" height="80.7" fill="#48987f"/>
<rect x="1549.32" y="172.9" width="5" height="59.9" fill="#df474f"/>
<rect x="1555.63" y="232.8" width="5" height="45.7" fill="#df474f"/>
<rect x="1561.94" y="236.4" width="5" height="42.2" fill="#48987f"/>
<rect x="1568.25" y="236.4" width="5" height="28.4" fill="#df474f"/>
<rect x="1574.57" y="264.7" width="5" height="42.1" fill="#df474f"/>
<rect x="1580.88" y="306.6" width="5" height="75.0" fill="#df474f"/>
<rect x="1587.19" y="381.6" width="5" height="52.9" fill="#df474f"/>
<rect x="1593.50" y="408.4" width="5" height="26.1" fill="#48987f"/>
<rect x="1599.82" y="406.6" width="5" height="2.0" fill="#48987f"/>
<rect x="1606.13" y="408.4" width="5" height="16.4" fill="#df474f"/>
<rect x="1612.44" y="420.7" width="5" height="4.1" fill="#48987f"/>
<rect x="1618.75" y="420.7" width="5" height="5.8" fill="#df474f"/>
<rect x="1625.07" y="400.1" width="5" height="26.4" fill="#48987f"/>
<rect x="1631.38" y="400.5" width="5" height="4.4" fill="#df474f"/>
<rect x="1637.69" y="385.1" width="5" height="19.7" fill="#48987f"/>
<rect x="1644.00" y="385.1" width="5" height="50.2" fill="#df474f"/>
<rect x="1650.32" y="435.0" width="5" height="69.7" fill="#df474f"/>
<rect x="1656.63" y="504.7" width="5" height="46.3" fill="#df474f"/>
<rect x="1662.94" y="551.0" width="5" height="10.6" fill="#df474f"/>
<rect x="1669.25" y="561.6" width="5" height="8.8" fill="#df474f"/>
<rect x="1675.57" y="570.4" width="5" height="12.9" fill="#df474f"/>
<rect x="1681.88" y="580.7" width="5" height="2.0" fill="#48987f"/>
<rect x="1688.19" y="532.9" width="5" height="49.3" fill="#48987f"/>
<rect x="1694.50" y="533.1" width="5" height="16.2" fill="#df474f"/>
</g>
<!-- bitcoin icon -->
<circle cx="37.5" cy="35.5" r="16" fill="#ea973c"/>
<text x="37.7" y="42.9" text-anchor="middle" font-family="Liberation Sans, sans-serif" font-weight="bold" font-size="20" fill="#fff" transform="rotate(13 37.5 35.5)">B</text>
<g transform="rotate(13 37.5 35.5)" fill="#fff"><rect x="34" y="25.9" width="1.8" height="3"/><rect x="37.6" y="25.9" width="1.8" height="3"/><rect x="34" y="42.3" width="1.8" height="3"/><rect x="37.6" y="42.3" width="1.8" height="3"/></g>
<!-- TV logo -->
<g fill="#fff" stroke="#fff" stroke-width="9.5" stroke-linejoin="round"><path d="M26.85 1026.15H47.93V1052.8H37.2V1036.7H26.85Z"/><circle cx="57" cy="1031.5" r="5.18"/><path d="M67.7 1026.15H79.9L69.6 1052.8H57.2Z"/></g>
<g fill="#131313"><path d="M26.85 1026.15H47.93V1052.8H37.2V1036.7H26.85Z"/><circle cx="57" cy="1031.5" r="5.18"/><path d="M67.7 1026.15H79.9L69.6 1052.8H57.2Z"/></g>
<!-- settings icon -->
<g fill="none" stroke="#141414" stroke-width="2" stroke-linejoin="round"><path d="M1858 1103.8L1864 1093H1876.6L1882.7 1103.8L1876.6 1114.6H1864Z"/><circle cx="1870.3" cy="1103.7" r="3.5"/></g>
<!-- collapse button -->
<rect x="22.6" y="148.8" width="49.5" height="35.3" rx="4.2" fill="#fff" stroke="#d6d8d8" stroke-width="1.2"/>
<path d="M40.7 169.5L47.4 163.3L54 169.2" fill="none" stroke="#141414" stroke-width="2.4" stroke-linecap="round"/>
<!-- USD box -->
<rect x="1817.3" y="14.9" width="104.7" height="44.2" rx="5.5" fill="#fff" stroke="#ececec" stroke-width="2"/>
<path d="M1905.4 35.4L1909.45 39.3L1913.5 35.4" fill="none" stroke="#141414" stroke-width="2.5"/>
<!-- right labels -->
<path d="M1711.1 533.6H1808.8V563.7H1711.1a4 4 0 0 1 -4 -4V537.6a4 4 0 0 1 4 -4Z" fill="#df474f"/>
<path d="M1810.7 533.6H1904.6a4 4 0 0 1 4 4V584.9a4 4 0 0 1 -4 4H1810.7Z" fill="#df474f"/>
<path d="M1810.7 589.2H1904.6a4 4 0 0 1 4 4V614.9a4 4 0 0 1 -4 4H1810.7Z" fill="#efa3a6"/>
<path d="M1810.7 619.1H1904.6a4 4 0 0 1 4 4V645.3a4 4 0 0 1 -4 4H1810.7Z" fill="#9bbdf3"/>
</svg>
<div id="title">Bitcoin / U.S. Dollar · 1W · Bitstamp</div>
<div class="lg" style="left:21.3px;top:66.5px;letter-spacing:0.9px">SMA</div>
<div class="lg g" style="left:77.6px;top:66.5px;letter-spacing:1.55px">200 close</div>
<div class="lg" style="left:199.2px;top:66.5px;letter-spacing:2.1px;color:#8fb6f6">59,077</div>
<div class="lg" style="left:21px;top:109.2px;letter-spacing:0.7px">EMA</div>
<div class="lg g" style="left:76.8px;top:109.2px;letter-spacing:1.55px">200 close</div>
<div class="lg" style="left:198.2px;top:109.2px;letter-spacing:2.1px;color:#ef9a9e">68,354</div>
<div style="position:absolute;left:1822.6px;top:25.1px;font-size:22px;line-height:26px;letter-spacing:0px">USD</div>
<div class="pl" style="top:1037.6px">0</div>
<div class="pl" style="top:965.5px">10,000</div>
<div class="pl" style="top:894.5px">20,000</div>
<div class="pl" style="top:823.4px">30,000</div>
<div class="pl" style="top:752.3px">40,000</div>
<div class="pl" style="top:681.2px">50,000</div>
<div class="pl" style="top:468.0px">80,000</div>
<div class="pl" style="top:397.0px">90,000</div>
<div class="pl" style="top:325.9px">100,000</div>
<div class="pl" style="top:254.8px">110,000</div>
<div class="pl" style="top:183.8px">120,000</div>
<div class="pl" style="top:112.7px">130,000</div>
<div id="taxis"><div class="tl" style="left:105.7px">Jul</div>
<div class="tl b" style="left:269.9px">2022</div>
<div class="tl" style="left:434.0px">Jul</div>
<div class="tl b" style="left:598.1px">2023</div>
<div class="tl" style="left:762.2px">Jul</div>
<div class="tl b" style="left:926.4px">2024</div>
<div class="tl" style="left:1090.5px">Jul</div>
<div class="tl b" style="left:1260.9px">2025</div>
<div class="tl" style="left:1425.1px">Jul</div>
<div class="tl b" style="left:1589.2px">2026</div>
<div class="tl" style="left:1753.3px">Jul</div></div>
<div class="lbl" style="left:1714.3px;top:535.2px;font-size:20.7px;letter-spacing:0.3px">BTCUSD</div>
<div class="lbl" style="left:1825.3px;top:534.8px">70,531</div>
<div class="lbl" style="left:1825.3px;top:559.7px;color:#f9d0d2">2d 18h</div>
<div class="lbl" style="left:1825.3px;top:589.7px;color:#141414">68,354</div>
<div class="lbl" style="left:1825.3px;top:620.1px;color:#141414">59,077</div>
</body></html>
